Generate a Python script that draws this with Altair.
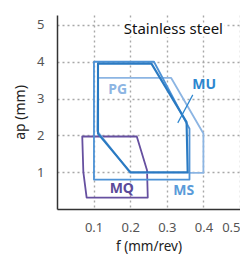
import altair as alt
import pandas as pd

# Shape outlines (f in mm/rev, ap in mm)
mq_f = [0.069, 0.218, 0.246, 0.248, 0.081, 0.072]
mq_ap = [1.97, 1.97, 1.05, 0.31, 0.31, 1.00]
pg_f = [0.112, 0.312, 0.400, 0.400, 0.200, 0.110]
pg_ap = [3.56, 3.56, 2.05, 0.98, 0.98, 2.12]
ms_f = [0.101, 0.265, 0.362, 0.362, 0.101]
ms_ap = [4.00, 4.00, 2.18, 0.80, 0.80]
mu_f = [0.112, 0.258, 0.354, 0.357, 0.200, 0.112]
mu_ap = [3.95, 3.95, 2.36, 1.00, 1.00, 2.05]

shape_names = ["MQ", "PG", "MS", "MU"]
shape_colors = ["#6650a0", "#8cb5e3", "#4d92d6", "#2a7ac2"]
shape_widths = [1.8, 1.8, 1.8, 2.1]

# Labels
label_text = ["PG", "MU", "MQ", "MS"]
label_f = [0.166, 0.402, 0.177, 0.346]
label_ap = [3.23, 3.37, 0.54, 0.49]
label_color = ["#8cb5e3", "#2d86cf", "#5b4a9a", "#5a9bd9"]

# MU pointer
ptr_f = [0.371]
ptr_ap = [3.10]
ptr_f2 = [0.330]
ptr_ap2 = [2.34]

title_text = ["Stainless steel"]
title_f = [0.318]
title_ap = [4.88]

x_ticks = [0.1, 0.2, 0.3, 0.4, 0.5]
y_ticks = [1, 2, 3, 4, 5]

FONT = "Noto Sans"

xs = alt.Scale(domain=[0, 0.5], nice=False, zero=False)
ys = alt.Scale(domain=[0, 5.27], nice=False, zero=False)

x_axis = alt.Axis(values=x_ticks, format=".1f", title="f (mm/rev)", grid=True,
                  gridDash=[2, 3], gridColor="#a8a8a8", gridWidth=1.4,
                  domainColor="#333333", domainWidth=1.5, ticks=False,
                  labelPadding=12, labelFontSize=13, labelColor="#555555",
                  labelFont=FONT, titleFont=FONT, titleFontSize=13.5,
                  titleFontWeight="normal", titleColor="#222222",
                  titleBaseline="alphabetic", titleY=41)
y_axis = alt.Axis(values=y_ticks, format="d", title="ap (mm)", grid=True,
                  gridDash=[2, 3], gridColor="#a8a8a8", gridWidth=1.4,
                  domainColor="#333333", domainWidth=1.5, ticks=False,
                  labelPadding=13, labelFontSize=13, labelColor="#555555",
                  labelFont=FONT, titleFont=FONT, titleFontSize=14,
                  titleFontWeight="normal", titleColor="#222222", titlePadding=9)

X = alt.X("f:Q", scale=xs, axis=x_axis)
Y = alt.Y("ap:Q", scale=ys, axis=y_axis)

layers = []
data_sets = [(mq_f, mq_ap), (pg_f, pg_ap), (ms_f, ms_ap), (mu_f, mu_ap)]
for k, (name, (fs, aps)) in enumerate(zip(shape_names, data_sets)):
    df = pd.DataFrame({"f": fs, "ap": aps, "i": list(range(len(fs))), "shape": name})
    layers.append(
        alt.Chart(df).mark_line(interpolate="linear-closed", strokeJoin="round",
                                color=shape_colors[k], strokeWidth=shape_widths[k]).encode(
            x=X, y=Y, order="i:Q")
    )

ptr_df = pd.DataFrame({"f": ptr_f, "ap": ptr_ap, "f2": ptr_f2, "ap2": ptr_ap2})
pointer = alt.Chart(ptr_df).mark_rule(color="#2d86cf", strokeWidth=1.2).encode(
    x=X, y=Y, x2="f2", y2="ap2")

lab_df = pd.DataFrame({"t": label_text, "f": label_f, "ap": label_ap, "c": label_color})
labels = alt.Chart(lab_df).mark_text(font=FONT, fontSize=14, fontWeight="bold").encode(
    x=X, y=Y, text="t:N", color=alt.Color("c:N", scale=None))

tdf = pd.DataFrame({"t": title_text, "f": title_f, "ap": title_ap})
halo = alt.Chart(tdf).mark_text(font=FONT, fontSize=15, color="white", stroke="white",
                                strokeWidth=6).encode(x=X, y=Y, text="t:N")
title = alt.Chart(tdf).mark_text(font=FONT, fontSize=15, color="#111111").encode(
    x=X, y=Y, text="t:N")

chart = alt.layer(*layers, pointer, labels, halo, title).properties(
    width=183, height=194,
    background="white",
    autosize=alt.AutoSizeParams(type="none"),
    padding={"left": 49, "top": 7, "right": 0, "bottom": 45},
).configure_view(stroke=None)

chart.save("out.html", embed_options={"renderer": "svg", "actions": False})
